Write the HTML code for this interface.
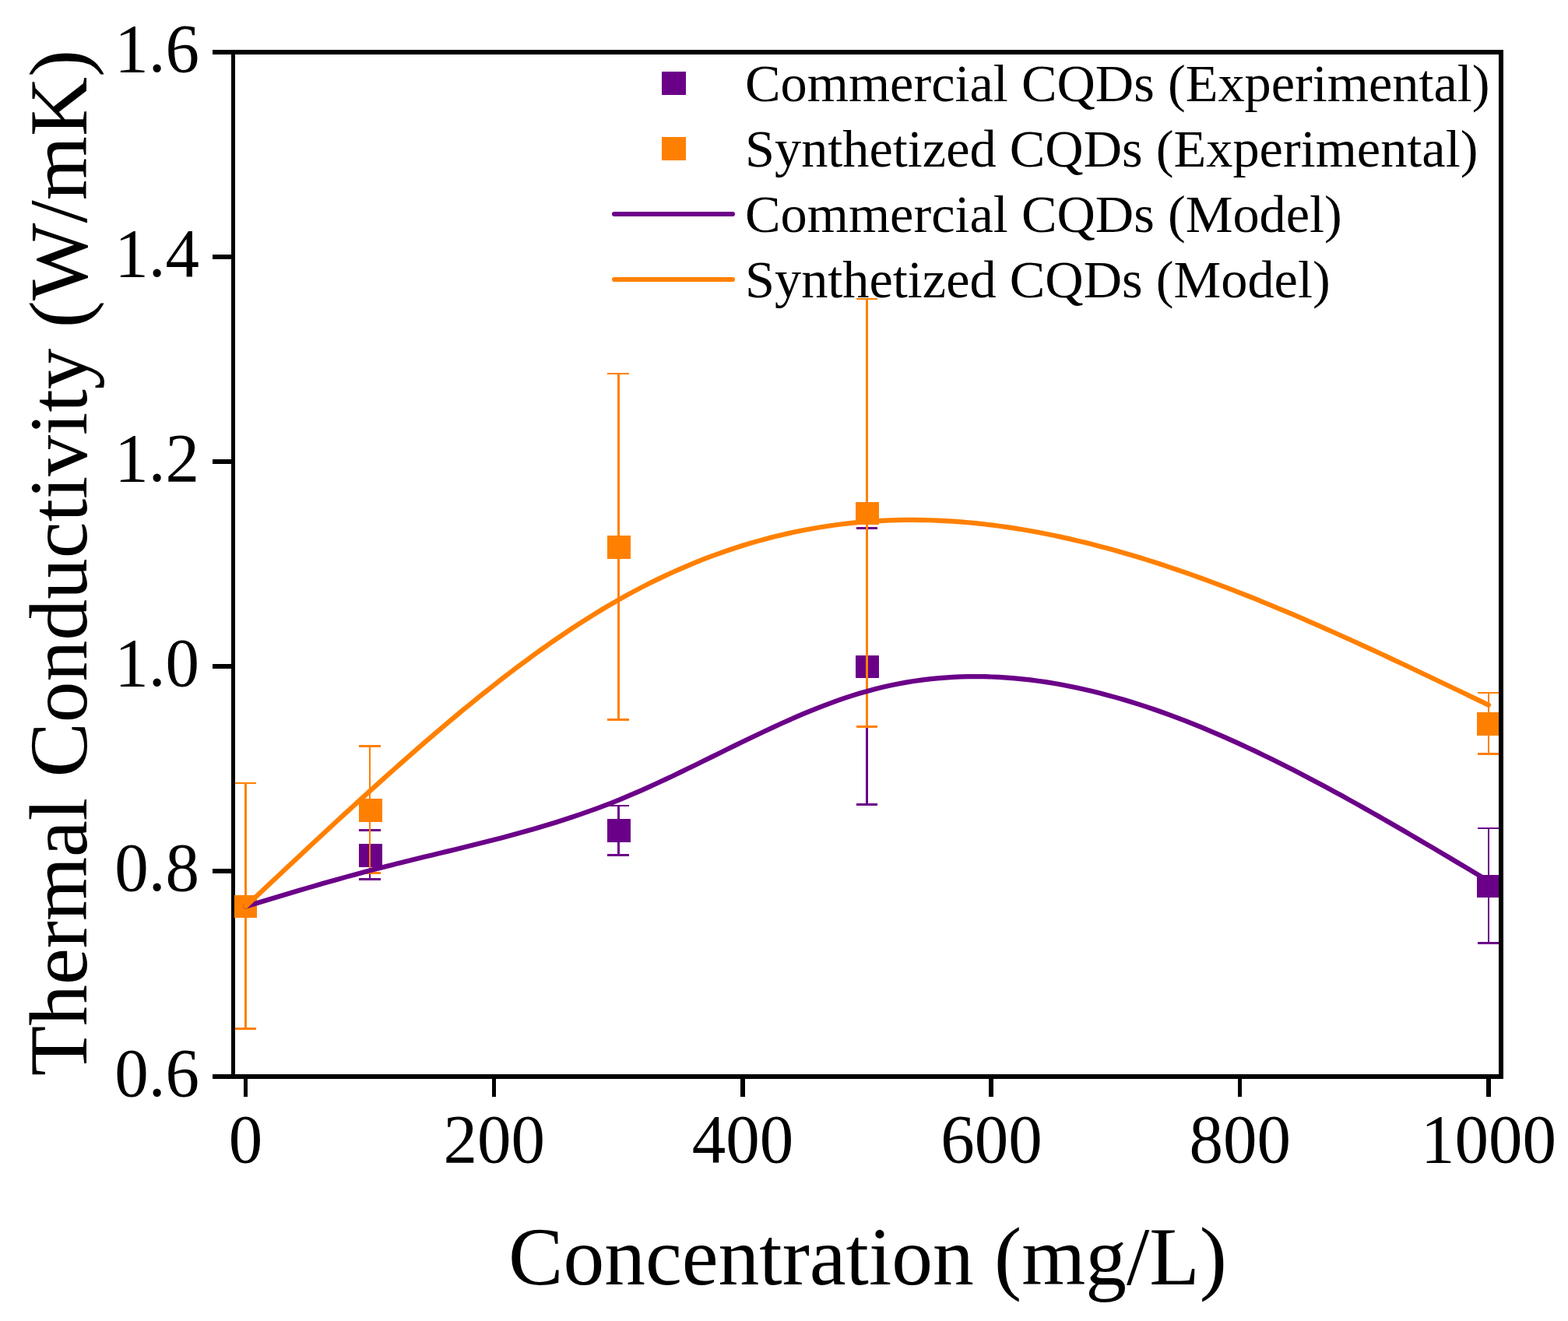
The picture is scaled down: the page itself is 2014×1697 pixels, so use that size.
<!DOCTYPE html>
<html lang="en">
<head>
<meta charset="utf-8">
<title>Thermal Conductivity vs Concentration</title>
<style>
html,body{margin:0;padding:0;background:#fff;}
body{width:2014px;height:1697px;overflow:hidden;}
svg{display:block;}
text{font-family:"Liberation Serif","Times New Roman",serif;fill:#000;}
</style>
</head>
<body>
<svg width="2014" height="1697" viewBox="0 0 2014 1697">
<rect x="0" y="0" width="2014" height="1697" fill="#ffffff"/>
<clipPath id="ax"><rect x="301" y="70" width="1624" height="1310"/></clipPath><g fill="#000" shape-rendering="crispEdges"><rect x="297" y="64" width="5" height="1322"/><rect x="1925" y="64" width="6" height="1322"/><rect x="297" y="64" width="1634" height="6"/><rect x="297" y="1380" width="1634" height="6"/><rect x="313" y="1383" width="5" height="26"/><rect x="632" y="1383" width="5" height="26"/><rect x="951" y="1383" width="6" height="26"/><rect x="1270" y="1383" width="6" height="26"/><rect x="1590" y="1383" width="5" height="26"/><rect x="1909" y="1383" width="6" height="26"/><rect x="273" y="1380" width="26" height="6"/><rect x="273" y="1116" width="26" height="6"/><rect x="273" y="853" width="26" height="6"/><rect x="273" y="590" width="26" height="6"/><rect x="273" y="327" width="26" height="6"/><rect x="273" y="64" width="26" height="6"/></g>
<g clip-path="url(#ax)" fill="#6B0088" shape-rendering="crispEdges"><rect x="301" y="1150" width="29" height="29"/><rect x="474" y="1065" width="2" height="66"/><rect x="461" y="1065" width="28" height="3"/><rect x="461" y="1128" width="28" height="3"/><rect x="461" y="1084" width="30" height="30"/><rect x="793" y="1034" width="3" height="66"/><rect x="780" y="1034" width="28" height="2"/><rect x="780" y="1097" width="28" height="3"/><rect x="780" y="1052" width="30" height="30"/><rect x="1112" y="677" width="3" height="358"/><rect x="1100" y="677" width="27" height="3"/><rect x="1100" y="1032" width="27" height="3"/><rect x="1099" y="842" width="30" height="29"/><rect x="1911" y="1063" width="2" height="150"/><rect x="1898" y="1063" width="29" height="2"/><rect x="1898" y="1210" width="29" height="3"/><rect x="1897" y="1124" width="30" height="29"/></g>
<g clip-path="url(#ax)" fill="#FF8000" shape-rendering="crispEdges"><rect x="314" y="1005" width="3" height="318"/><rect x="302" y="1005" width="27" height="2"/><rect x="302" y="1320" width="27" height="3"/><rect x="301" y="1150" width="29" height="29"/><rect x="474" y="957" width="2" height="166"/><rect x="461" y="957" width="28" height="3"/><rect x="461" y="1120" width="28" height="3"/><rect x="461" y="1026" width="30" height="30"/><rect x="793" y="479" width="3" height="447"/><rect x="780" y="479" width="28" height="2"/><rect x="780" y="923" width="28" height="3"/><rect x="780" y="688" width="30" height="30"/><rect x="1112" y="383" width="3" height="552"/><rect x="1100" y="383" width="27" height="2"/><rect x="1100" y="932" width="27" height="3"/><rect x="1099" y="645" width="30" height="29"/><rect x="1911" y="889" width="2" height="81"/><rect x="1898" y="889" width="29" height="2"/><rect x="1898" y="967" width="29" height="3"/><rect x="1897" y="915" width="30" height="30"/></g>
<path d="M315.50,1164.50 L325.48,1161.48 L335.46,1158.46 L345.43,1155.45 L355.41,1152.45 L365.39,1149.46 L375.37,1146.48 L385.35,1143.53 L395.32,1140.60 L405.30,1137.69 L415.28,1134.81 L425.26,1131.96 L435.24,1129.15 L445.22,1126.37 L455.19,1123.64 L465.17,1120.94 L475.15,1118.30 L485.13,1115.70 L495.11,1113.15 L505.08,1110.64 L515.06,1108.16 L525.04,1105.71 L535.02,1103.27 L545.00,1100.86 L554.98,1098.45 L564.95,1096.04 L574.93,1093.63 L584.91,1091.21 L594.89,1088.77 L604.87,1086.32 L614.84,1083.84 L624.82,1081.32 L634.80,1078.77 L644.78,1076.17 L654.76,1073.52 L664.73,1070.82 L674.71,1068.05 L684.69,1065.21 L694.67,1062.30 L704.65,1059.31 L714.62,1056.23 L724.60,1053.06 L734.58,1049.80 L744.56,1046.42 L754.54,1042.94 L764.52,1039.35 L774.49,1035.63 L784.47,1031.78 L794.45,1027.80 L804.43,1023.68 L814.41,1019.44 L824.38,1015.07 L834.36,1010.61 L844.34,1006.04 L854.32,1001.39 L864.30,996.68 L874.27,991.89 L884.25,987.06 L894.23,982.19 L904.21,977.30 L914.19,972.38 L924.17,967.46 L934.14,962.55 L944.12,957.65 L954.10,952.79 L964.08,947.96 L974.06,943.18 L984.03,938.47 L994.01,933.82 L1003.99,929.27 L1013.97,924.80 L1023.95,920.45 L1033.93,916.21 L1043.90,912.10 L1053.88,908.13 L1063.86,904.32 L1073.84,900.66 L1083.82,897.18 L1093.79,893.89 L1103.77,890.79 L1113.75,887.90 L1123.73,885.23 L1133.71,882.77 L1143.68,880.52 L1153.66,878.49 L1163.64,876.66 L1173.62,875.04 L1183.60,873.62 L1193.58,872.40 L1203.55,871.37 L1213.53,870.54 L1223.51,869.91 L1233.49,869.46 L1243.47,869.19 L1253.44,869.11 L1263.42,869.21 L1273.40,869.49 L1283.38,869.95 L1293.36,870.57 L1303.33,871.37 L1313.31,872.33 L1323.29,873.45 L1333.27,874.74 L1343.25,876.18 L1353.23,877.79 L1363.20,879.54 L1373.18,881.44 L1383.16,883.50 L1393.14,885.69 L1403.12,888.03 L1413.09,890.51 L1423.07,893.13 L1433.05,895.88 L1443.03,898.76 L1453.01,901.77 L1462.98,904.90 L1472.96,908.16 L1482.94,911.54 L1492.92,915.03 L1502.90,918.64 L1512.88,922.37 L1522.85,926.20 L1532.83,930.14 L1542.81,934.18 L1552.79,938.32 L1562.77,942.56 L1572.74,946.90 L1582.72,951.33 L1592.70,955.85 L1602.68,960.46 L1612.66,965.16 L1622.63,969.93 L1632.61,974.79 L1642.59,979.72 L1652.57,984.72 L1662.55,989.80 L1672.53,994.94 L1682.50,1000.15 L1692.48,1005.42 L1702.46,1010.76 L1712.44,1016.15 L1722.42,1021.59 L1732.39,1027.09 L1742.37,1032.64 L1752.35,1038.23 L1762.33,1043.86 L1772.31,1049.54 L1782.28,1055.26 L1792.26,1061.01 L1802.24,1066.79 L1812.22,1072.61 L1822.20,1078.45 L1832.17,1084.31 L1842.15,1090.20 L1852.13,1096.11 L1862.11,1102.03 L1872.09,1107.97 L1882.07,1113.92 L1892.04,1119.87 L1902.02,1125.84 L1912.00,1131.80" fill="none" stroke="#6B0088" stroke-width="6.2" stroke-linejoin="round" stroke-linecap="round" clip-path="url(#ax)"/>
<path d="M315.50,1164.50 L325.48,1155.11 L335.46,1145.72 L345.43,1136.33 L355.41,1126.95 L365.39,1117.59 L375.37,1108.24 L385.35,1098.90 L395.32,1089.58 L405.30,1080.29 L415.28,1071.02 L425.26,1061.78 L435.24,1052.57 L445.22,1043.40 L455.19,1034.26 L465.17,1025.16 L475.15,1016.10 L485.13,1007.09 L495.11,998.12 L505.08,989.21 L515.06,980.35 L525.04,971.56 L535.02,962.82 L545.00,954.16 L554.98,945.56 L564.95,937.05 L574.93,928.61 L584.91,920.25 L594.89,911.98 L604.87,903.80 L614.84,895.71 L624.82,887.72 L634.80,879.84 L644.78,872.06 L654.76,864.39 L664.73,856.83 L674.71,849.39 L684.69,842.07 L694.67,834.87 L704.65,827.80 L714.62,820.87 L724.60,814.07 L734.58,807.41 L744.56,800.89 L754.54,794.52 L764.52,788.31 L774.49,782.24 L784.47,776.34 L794.45,770.60 L804.43,765.02 L814.41,759.62 L824.38,754.37 L834.36,749.29 L844.34,744.37 L854.32,739.62 L864.30,735.02 L874.27,730.59 L884.25,726.31 L894.23,722.20 L904.21,718.24 L914.19,714.44 L924.17,710.79 L934.14,707.30 L944.12,703.97 L954.10,700.79 L964.08,697.76 L974.06,694.88 L984.03,692.16 L994.01,689.58 L1003.99,687.16 L1013.97,684.88 L1023.95,682.75 L1033.93,680.77 L1043.90,678.94 L1053.88,677.24 L1063.86,675.70 L1073.84,674.29 L1083.82,673.03 L1093.79,671.92 L1103.77,670.94 L1113.75,670.10 L1123.73,669.40 L1133.71,668.84 L1143.68,668.41 L1153.66,668.12 L1163.64,667.96 L1173.62,667.94 L1183.60,668.04 L1193.58,668.26 L1203.55,668.62 L1213.53,669.09 L1223.51,669.69 L1233.49,670.41 L1243.47,671.25 L1253.44,672.20 L1263.42,673.27 L1273.40,674.45 L1283.38,675.74 L1293.36,677.14 L1303.33,678.65 L1313.31,680.27 L1323.29,681.99 L1333.27,683.81 L1343.25,685.74 L1353.23,687.76 L1363.20,689.88 L1373.18,692.10 L1383.16,694.41 L1393.14,696.81 L1403.12,699.30 L1413.09,701.89 L1423.07,704.56 L1433.05,707.31 L1443.03,710.15 L1453.01,713.07 L1462.98,716.07 L1472.96,719.15 L1482.94,722.30 L1492.92,725.53 L1502.90,728.83 L1512.88,732.21 L1522.85,735.65 L1532.83,739.16 L1542.81,742.74 L1552.79,746.38 L1562.77,750.09 L1572.74,753.85 L1582.72,757.68 L1592.70,761.56 L1602.68,765.50 L1612.66,769.49 L1622.63,773.53 L1632.61,777.63 L1642.59,781.77 L1652.57,785.96 L1662.55,790.20 L1672.53,794.47 L1682.50,798.80 L1692.48,803.16 L1702.46,807.56 L1712.44,811.99 L1722.42,816.46 L1732.39,820.97 L1742.37,825.50 L1752.35,830.06 L1762.33,834.66 L1772.31,839.28 L1782.28,843.92 L1792.26,848.58 L1802.24,853.27 L1812.22,857.98 L1822.20,862.70 L1832.17,867.44 L1842.15,872.19 L1852.13,876.95 L1862.11,881.73 L1872.09,886.51 L1882.07,891.30 L1892.04,896.10 L1902.02,900.90 L1912.00,905.70" fill="none" stroke="#FF8000" stroke-width="6.2" stroke-linejoin="round" stroke-linecap="round" clip-path="url(#ax)"/>
<g font-size="87" text-anchor="middle"><text transform="translate(315.5,1492.8) scale(1,1.02)">0</text><text transform="translate(634.8,1492.8) scale(1,1.02)">200</text><text transform="translate(954.1,1492.8) scale(1,1.02)">400</text><text transform="translate(1273.4,1492.8) scale(1,1.02)">600</text><text transform="translate(1592.7,1492.8) scale(1,1.02)">800</text><text transform="translate(1912.0,1492.8) scale(1,1.02)">1000</text></g>
<g font-size="87" text-anchor="end"><text transform="translate(256,1408.4) scale(1,1.02)">0.6</text><text transform="translate(256,1144.4) scale(1,1.02)">0.8</text><text transform="translate(256,881.4) scale(1,1.02)">1.0</text><text transform="translate(256,618.4) scale(1,1.02)">1.2</text><text transform="translate(256,355.4) scale(1,1.02)">1.4</text><text transform="translate(256,92.4) scale(1,1.02)">1.6</text></g>
<text x="1114.5" y="1649.5" font-size="105.5" text-anchor="middle">Concentration (mg/L)</text>
<text transform="translate(110.5,723) rotate(-90)" font-size="105.5" text-anchor="middle">Thermal Conductivity (W/mK)</text>
<g shape-rendering="crispEdges"><rect x="850" y="92" width="31" height="30" fill="#6B0088"/><rect x="850" y="176" width="31" height="30" fill="#FF8000"/></g><path d="M789,275 H941" stroke="#6B0088" stroke-width="6" stroke-linecap="round" fill="none"/><path d="M789,359 H941" stroke="#FF8000" stroke-width="6" stroke-linecap="round" fill="none"/>
<g font-size="68.35"><text x="957" y="129.7">Commercial CQDs (Experimental)</text><text x="957" y="213.7">Synthetized CQDs (Experimental)</text><text x="957" y="297.7">Commercial CQDs (Model)</text><text x="957" y="381.7">Synthetized CQDs (Model)</text></g>
</svg>
</body>
</html>
